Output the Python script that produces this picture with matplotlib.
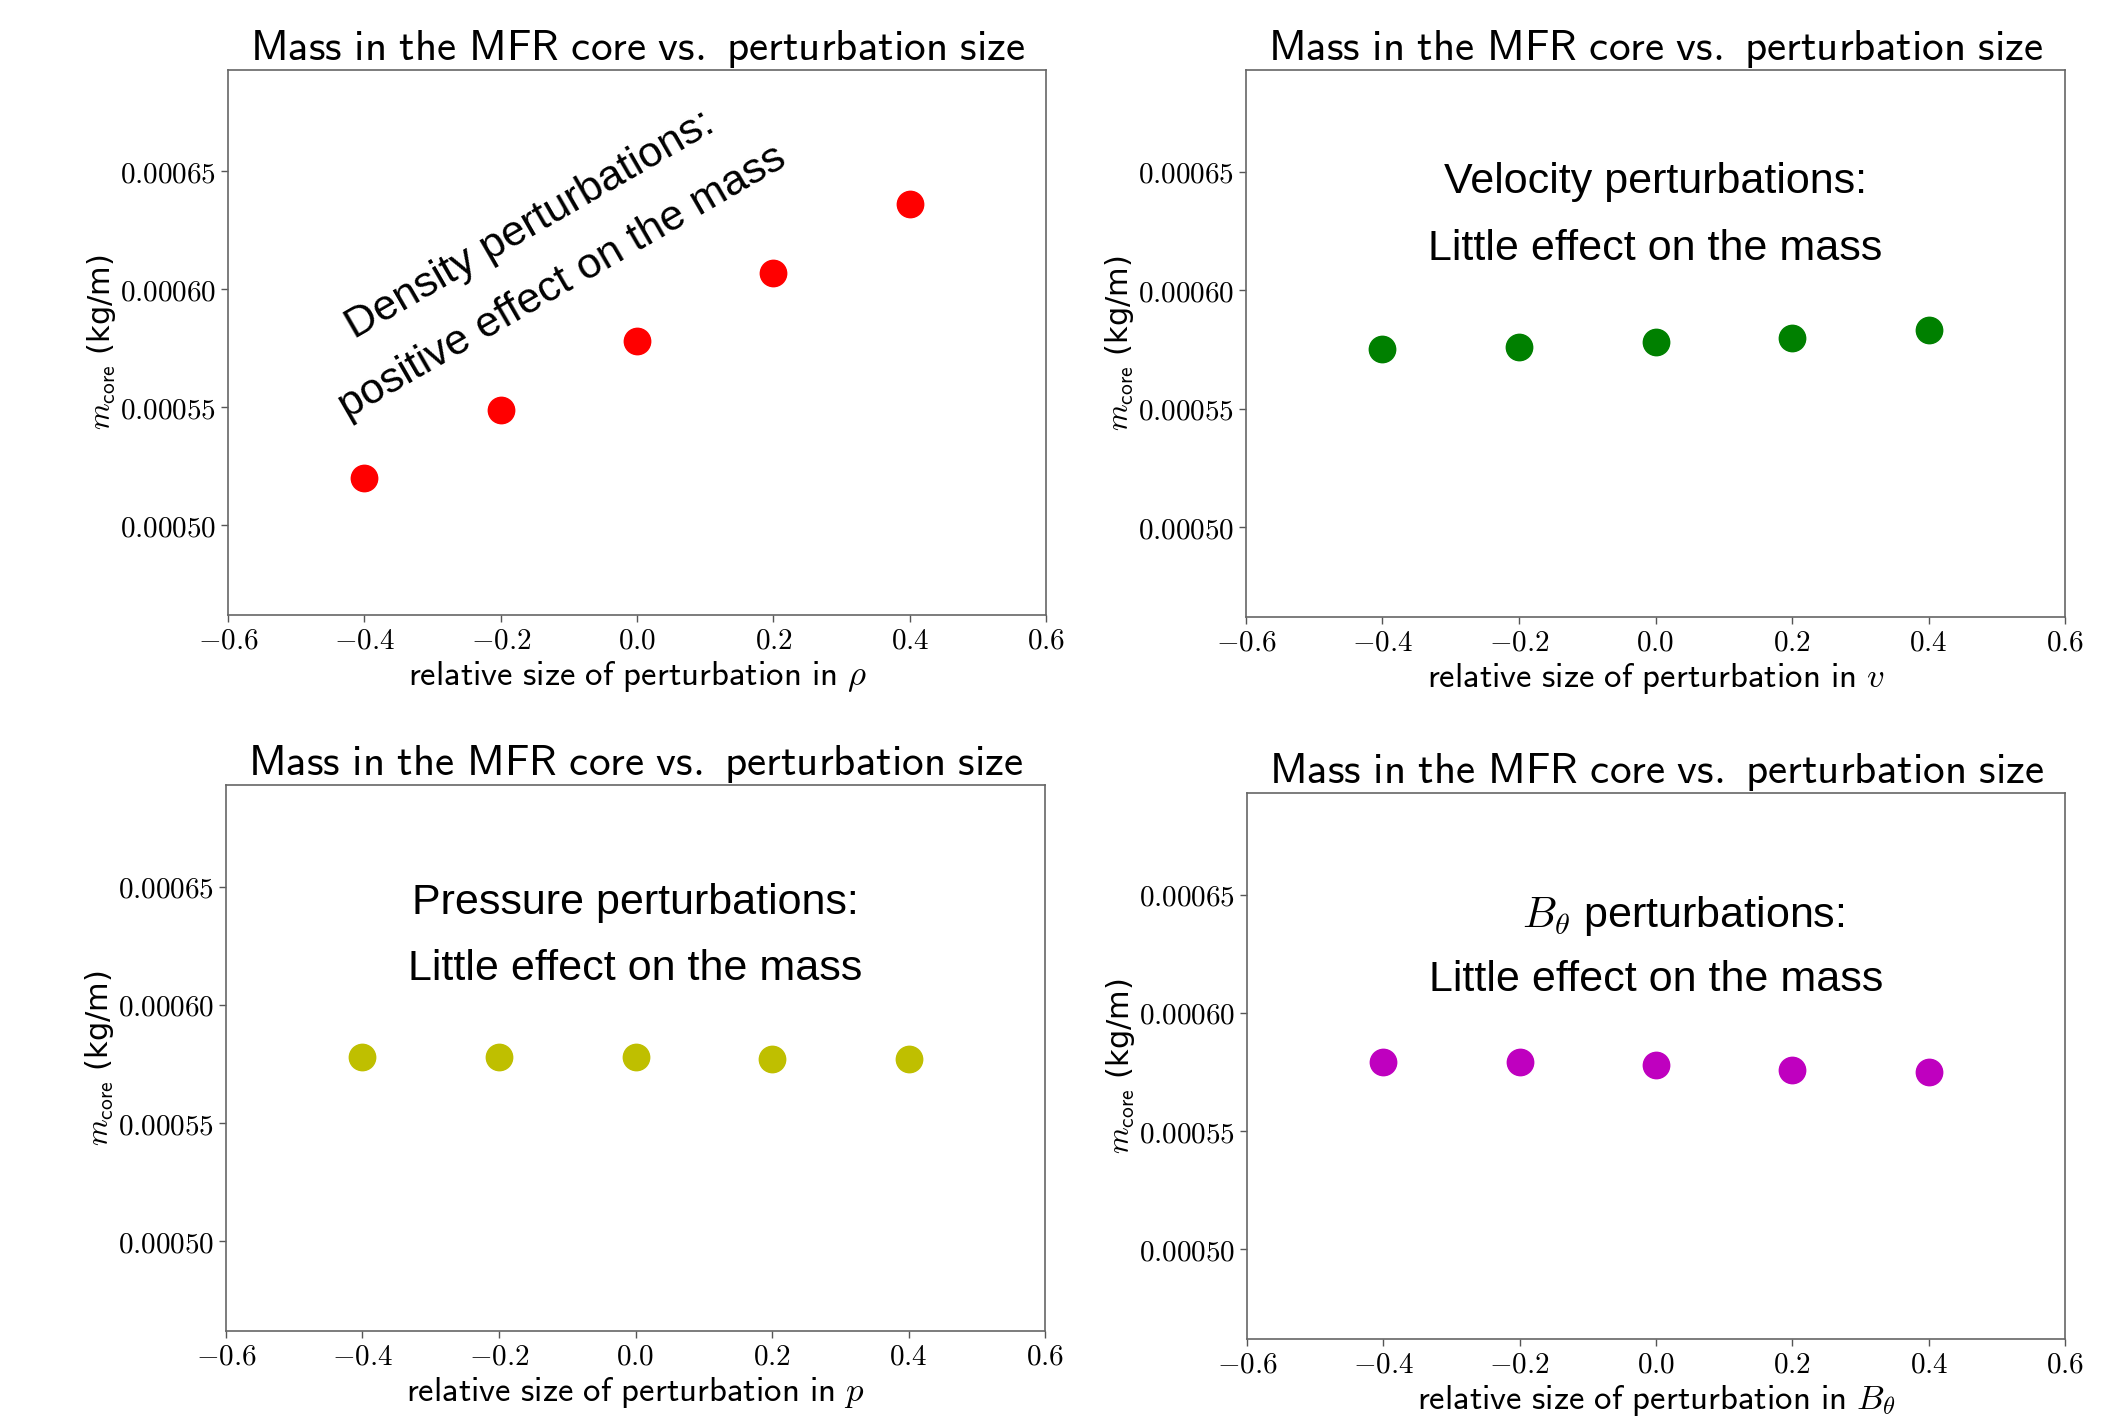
#import Libraries
import matplotlib
matplotlib.use("Agg")
import matplotlib.pyplot as plt
from matplotlib.ticker import FormatStrFormatter
##################################################

# perturbation sizes (same for all four runs)
pert = [-0.4, -0.2, 0.0, 0.2, 0.4]

# mass in the MFR core (kg/m)
m_rho = [0.000520, 0.000549, 0.000578, 0.000607, 0.000636]
m_v = [0.000575, 0.000576, 0.000578, 0.000580, 0.000583]
m_p = [0.000578, 0.000578, 0.000578, 0.000577, 0.000577]
m_B = [0.000579, 0.000579, 0.000578, 0.000576, 0.000575]

xticks = [-0.6, -0.4, -0.2, 0.0, 0.2, 0.4, 0.6]
yticks = [0.00050, 0.00055, 0.00060, 0.00065]
ylim = (0.000462, 0.000693)

title = r'$\mathsf{Mass\ in\ the\ MFR\ core\ vs.\ perturbation\ size}$'
ylabel = r'$m_{\mathsf{core}}$ (kg/m)'
##################################################

plt.rcParams['mathtext.fontset'] = 'cm'

fig = plt.figure(figsize=(21.1, 14.28), dpi=100)

# panel positions (fig fraction), one per sub-plot
panels = [
    dict(pos=[0.1081, 0.5693, 0.3877, 0.3817], y=m_rho, c='r', var=r'\rho'),
    dict(pos=[0.5905, 0.5679, 0.3882, 0.3831], y=m_v, c='g', var=r'v'),
    dict(pos=[0.1071, 0.0679, 0.3882, 0.3824], y=m_p, c='y', var=r'p'),
    dict(pos=[0.5910, 0.0623, 0.3877, 0.3824], y=m_B, c='m', var=r'B_\theta'),
]

axs = []
for pn in panels:
    ax = fig.add_axes(pn['pos'])
    ax.plot(pert, pn['y'], 'o', color=pn['c'], markersize=19, linestyle='none')
    ax.set_xlim(-0.6, 0.6)
    ax.set_ylim(*ylim)
    ax.set_xticks(xticks)
    ax.set_yticks(yticks)
    ax.xaxis.set_major_formatter(FormatStrFormatter(r'$%.1f$'))
    ax.yaxis.set_major_formatter(FormatStrFormatter(r'$%.5f$'))
    ax.tick_params(labelsize=21, length=5, width=1, color='#555555')
    for s in ax.spines.values():
        s.set_color('#666666')
        s.set_linewidth(1.2)
    ax.set_title(title, fontsize=31, pad=4)
    ax.set_xlabel(r'$\mathsf{relative\ size\ of\ perturbation\ in\ }' + pn['var'] + '$',
                  fontsize=25, labelpad=3)
    ax.set_ylabel(ylabel, fontsize=22, labelpad=1)
    axs.append(ax)

# annotations
txt = dict(family='Liberation Sans', fontsize=31, ha='center', va='center')
axs[0].text(-0.157, 0.0006273, 'Density perturbations:', rotation=30, **txt)
axs[0].text(-0.110, 0.0006028, 'positive effect on the mass', rotation=30, **txt)

axs[1].text(0.0, 0.0006455, 'Velocity perturbations:', **txt)
axs[1].text(0.0, 0.0006176, 'Little effect on the mass', **txt)

axs[2].text(0.0, 0.0006432, 'Pressure perturbations:', **txt)
axs[2].text(0.0, 0.0006153, 'Little effect on the mass', **txt)

axs[3].text(0.04, 0.000641, r'$B_\theta$ perturbations:', **txt)
axs[3].text(0.0, 0.0006138, 'Little effect on the mass', **txt)
##################################################

fig.savefig('out.png', dpi=100)
